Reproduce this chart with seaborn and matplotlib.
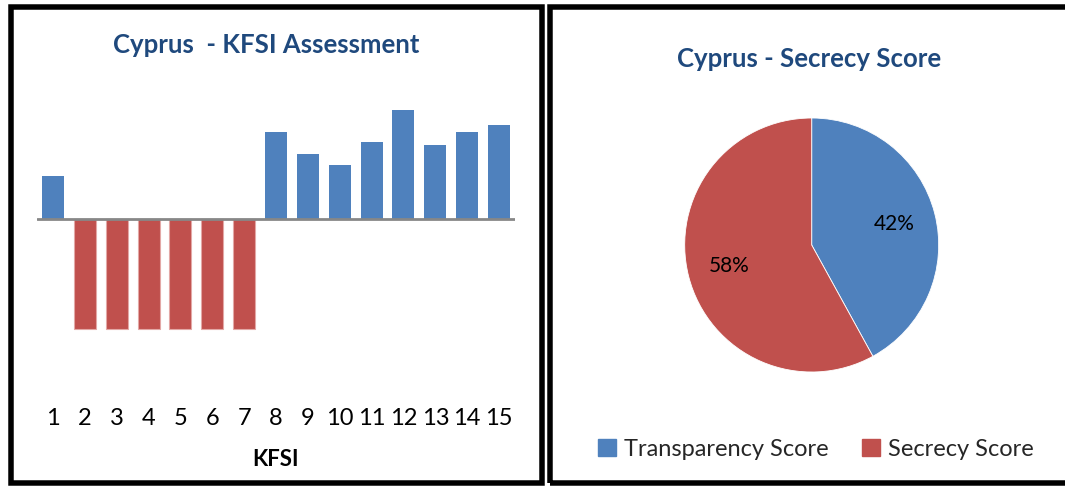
# Cyprus KFSI assessment + secrecy score pie
import pandas as pd
import matplotlib.pyplot as plt
from matplotlib.patches import Rectangle, Patch
import seaborn as sns

sns.set_theme(style="white")
plt.rcParams['font.family'] = ['Lato', 'DejaVu Sans']

# Datos
kfsi = [str(i) for i in range(1, 16)]
kfsi_valores = [0.40, -1, -1, -1, -1, -1, -1, 0.80, 0.60, 0.50, 0.71, 1.00, 0.68, 0.80, 0.86]
pie_etiquetas = ['Transparency Score', 'Secrecy Score']
pie_valores = [42, 58]

azul = '#4F81BD'
rojo = '#C0504D'
titulo_color = '#1F497D'

W, H = 1065, 488
fig = plt.figure(figsize=(W / 100, H / 100), dpi=100)

# --- Barras KFSI ---
ax = fig.add_axes([37 / W, 1 - 400 / H, 478 / W, 301 / H])
df = pd.DataFrame({'kfsi': kfsi, 'valor': kfsi_valores})
df['signo'] = ['pos' if v >= 0 else 'neg' for v in df['valor']]
sns.barplot(data=df, x='kfsi', y='valor', hue='signo', palette={'pos': azul, 'neg': rojo},
            dodge=False, width=0.69, legend=False, ax=ax, saturation=1)
for p in ax.patches:
    if p.get_height() < 0:
        p.set_edgecolor('#E3A8A6')
        p.set_linewidth(0.8)
    else:
        p.set_linewidth(0)
ax.axhline(0, color='#878787', lw=2, zorder=5)
ax.set_xlim(-0.5, 14.5)
ax.set_ylim(-1.65, 1.1)
sns.despine(ax=ax, left=True, bottom=True)
ax.set_yticks([])
ax.tick_params(axis='x', length=0, pad=6, labelsize=17, labelcolor='black')
ax.set_xlabel('KFSI', fontsize=16, fontweight='bold', color='black', labelpad=14)
ax.set_ylabel('')
fig.text(266 / W, 1 - 45 / H, 'Cyprus  - KFSI Assessment', ha='center', va='center',
         fontsize=18.5, fontweight='bold', color=titulo_color)

# --- Pie ---
ax2 = fig.add_axes([(811.7 - 127) / W, 1 - (245 + 127) / H, 254 / W, 254 / H])
ax2.pie(pie_valores, colors=[azul, rojo], startangle=90, counterclock=False,
        autopct='%1.0f%%', pctdistance=0.67, radius=1,
        wedgeprops={'linewidth': 0.6, 'edgecolor': 'white'},
        textprops={'fontsize': 15, 'color': 'black'})
ax2.set_xlim(-1, 1)
ax2.set_ylim(-1, 1)
fig.text(809 / W, 1 - 59 / H, 'Cyprus - Secrecy Score', ha='center', va='center',
         fontsize=18.5, fontweight='bold', color=titulo_color)

handles = [Patch(color=azul), Patch(color=rojo)]
fig.legend(handles, pie_etiquetas, loc='center', bbox_to_anchor=(816 / W, 1 - 449 / H),
           ncol=2, frameon=False, fontsize=17, handlelength=0.75, handleheight=0.75,
           handletextpad=0.35, columnspacing=1.4)

# Marcos
lw = 5.5 * 72 / 100
fig.patches.append(Rectangle((10.75 / W, 1 - 483.25 / H), (542.25 - 10.75) / W, (483.25 - 6.75) / H,
                             transform=fig.transFigure, fill=False, edgecolor='black', lw=lw))
fig.patches.append(Rectangle((549.75 / W, 1 - 483.25 / H), (1075 - 549.75) / W, (483.25 - 6.75) / H,
                             transform=fig.transFigure, fill=False, edgecolor='black', lw=lw))

fig.savefig('out.png', dpi=100)
